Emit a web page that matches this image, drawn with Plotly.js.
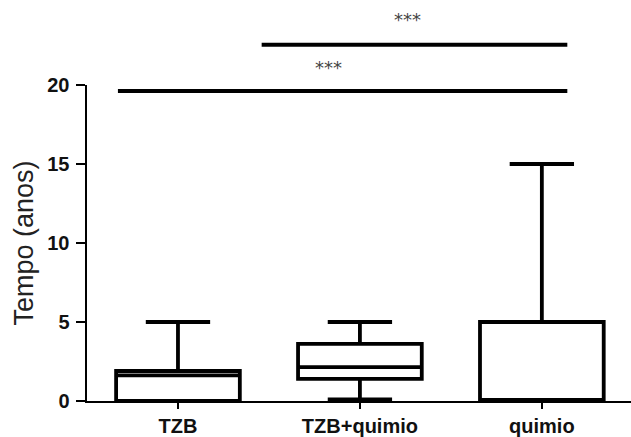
<!DOCTYPE html>
<html><head><meta charset="utf-8">
<script src="https://cdn.plot.ly/plotly-3.0.1.min.js"></script>
<style>html,body{margin:0;padding:0;background:#fff}#c{width:631px;height:437px}</style>
</head><body><div id="c"></div>
<script>
const categories = ["TZB", "TZB+quimio", "quimio"];
const lowerFence = [0, 0.1, 0];
const q1 = [0, 1.4, 0];
const median = [1.62, 2.15, 0];
const q3 = [1.9, 3.62, 5];
const upperFence = [5, 5, 15];
const yTicks = [0, 5, 10, 15, 20];
// significance brackets
const sigFrom = [-0.33, 0.46];
const sigTo = [2.14, 2.14];
const sigY = [0.981, 1.127];
const sigLabel = ["***", "***"];
const sigLabelX = [0.83, 1.26];
const sigLabelY = [1.054, 1.207];

const trace = {
  type: 'box',
  x: [0, 1, 2],
  lowerfence: lowerFence, q1: q1, median: median, q3: q3, upperfence: upperFence,
  width: 0.68,
  whiskerwidth: 0.52,
  line: {color: '#000', width: 3.8},
  fillcolor: '#fff',
  boxpoints: false,
  hoverinfo: 'skip'
};

const shapes = sigFrom.map((f, i) => ({
  type: 'line', xref: 'x', yref: 'paper',
  x0: f, x1: sigTo[i], y0: sigY[i], y1: sigY[i],
  line: {color: '#000', width: 4}
}));
const annotations = sigLabel.map((t, i) => ({
  xref: 'x', yref: 'paper', x: sigLabelX[i], y: sigLabelY[i],
  xanchor: 'center', yanchor: 'middle',
  text: t, showarrow: false, font: {family: 'DejaVu Sans', size: 18, color: '#444'}
}));

const layout = {
  width: 631, height: 437,
  margin: {l: 87, r: 0, t: 85, b: 36},
  paper_bgcolor: '#fff', plot_bgcolor: '#fff',
  showlegend: false,
  xaxis: {
    range: [-0.5, 2.49],
    tickvals: [0, 1, 2], ticktext: categories,
    showline: true, linecolor: '#000', linewidth: 2,
    ticks: 'outside', ticklen: 6, tickwidth: 2, tickcolor: '#000',
    ticklabelstandoff: 0,
    showgrid: false, zeroline: false,
    tickfont: {family: 'Liberation Sans, Arial', size: 20, color: '#111', weight: 'bold'}
  },
  yaxis: {
    range: [0, 20],
    tickvals: yTicks,
    showline: true, linecolor: '#000', linewidth: 2.5,
    ticks: 'outside', ticklen: 9, tickwidth: 2, tickcolor: '#000',
    ticklabelstandoff: 2,
    showgrid: false, zeroline: false,
    tickfont: {family: 'Liberation Sans, Arial', size: 20, color: '#111', weight: 'bold'},
    title: {text: 'Tempo (anos)', standoff: 6, font: {family: 'Liberation Sans, Arial', size: 27, color: '#222'}}
  },
  shapes: shapes,
  annotations: annotations
};

Plotly.newPlot('c', [trace], layout, {displayModeBar: false, staticPlot: true});
</script></body></html>
